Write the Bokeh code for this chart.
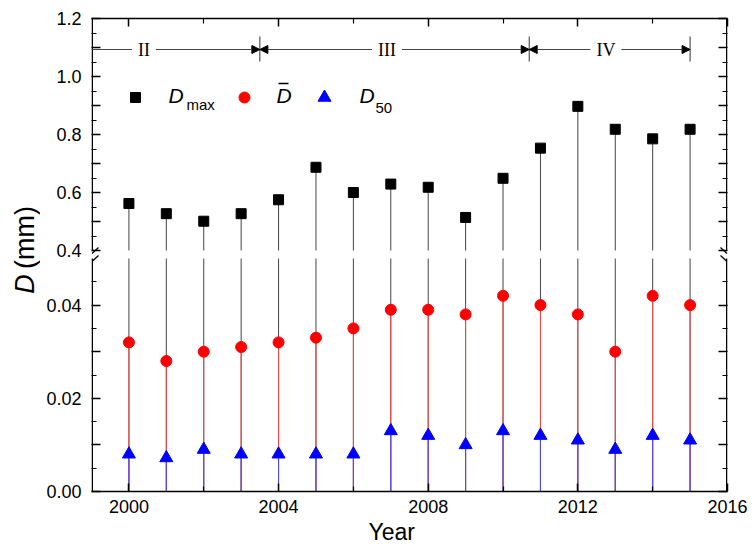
import math
from bokeh.plotting import figure
from bokeh.layouts import row
from bokeh.models import (Range1d, LinearAxis, FixedTicker, CustomJSTickFormatter,
                          Label, Arrow, NormalHead, ColumnDataSource, Title)
from bokeh.core.properties import value
from bokeh.embed import file_html
from bokeh.resources import INLINE

# ---------------- data ----------------
years = [2000, 2001, 2002, 2003, 2004, 2005, 2006, 2007,
         2008, 2009, 2010, 2011, 2012, 2013, 2014, 2015]
d_max = [0.562, 0.527, 0.501, 0.527, 0.575, 0.687, 0.600, 0.629,
         0.618, 0.514, 0.649, 0.753, 0.897, 0.818, 0.785, 0.818]
d_mean = [0.032, 0.028, 0.030, 0.031, 0.032, 0.033, 0.035, 0.039,
          0.039, 0.038, 0.042, 0.040, 0.038, 0.030, 0.042, 0.040]
d_50 = [0.008, 0.0072, 0.009, 0.008, 0.008, 0.008, 0.008, 0.013,
        0.012, 0.010, 0.013, 0.012, 0.011, 0.009, 0.012, 0.011]

stage_names = ["II", "III", "IV"]
stage_bounds = [1999, 2003.5, 2010.7, 2015]
stage_label_x = [2000.4, 2006.9, 2012.75]

x_ticks = [2000, 2004, 2008, 2012, 2016]
x_minor = [2002, 2006, 2010, 2014]
low_major = [0.0, 0.01, 0.02, 0.03, 0.04]
low_labels = ["0.00", "", "0.02", "", "0.04"]
low_minor = [0.005, 0.015, 0.025, 0.035, 0.045]
up_major = [0.4, 0.5, 0.6, 0.7, 0.8, 0.9, 1.0, 1.1, 1.2]
up_labels = ["0.4", "", "0.6", "", "0.8", "", "1.0", "", "1.2"]
up_minor = [0.45, 0.55, 0.65, 0.75, 0.85, 0.95, 1.05, 1.15]

# ---------------- layout ----------------
FRAME_W, FRAME_H = 636, 473
LOW_H, UP_H = 233, 232
X0, X1 = 1999, 2016
LOW_MAX, UP_MIN, UP_MAX = 0.05, 0.4, 1.2
FL, FT = 91, 18            # frame left / top on page
FB = FT + FRAME_H
LBL_W = 40                 # width of the y-title strip
PAGE_H = 545

main_end = LOW_MAX * FRAME_H / LOW_H
up_start = UP_MAX - (UP_MAX - UP_MIN) * FRAME_H / UP_H


def up_to_main(v):
    return (v - up_start) / (UP_MAX - up_start) * main_end


def px_x(px):
    return X0 + (px - FL) / FRAME_W * (X1 - X0)


def px_main(py):
    return (FB - py) / FRAME_H * main_end


def px_up(py):
    return up_start + (FB - py) / FRAME_H * (UP_MAX - up_start)


FONT = "Liberation Sans"

p = figure(frame_width=FRAME_W, frame_height=FRAME_H,
           x_range=Range1d(X0, X1), y_range=Range1d(0, main_end),
           output_backend="svg", toolbar_location=None,
           x_axis_location=None, y_axis_location=None,
           min_border_left=FL - LBL_W, min_border_top=FT, min_border_right=23,
           min_border_bottom=PAGE_H - FB)
p.extra_y_ranges = {"up": Range1d(up_start, UP_MAX)}
p.outline_line_color = None
p.background_fill_color = "white"
p.border_fill_color = "white"
p.grid.visible = False

blank = CustomJSTickFormatter(code="return '';")


def style_axis(ax, major_in, minor_in):
    ax.major_tick_in = major_in
    ax.major_tick_out = 0
    ax.minor_tick_in = minor_in
    ax.minor_tick_out = 0
    ax.major_tick_line_color = "black"
    ax.minor_tick_line_color = "black"
    ax.major_tick_line_width = 1.5
    ax.minor_tick_line_width = 1.2
    ax.axis_line_width = 1.5
    ax.major_label_text_font = FONT
    ax.major_label_text_font_size = "18px"
    ax.major_label_text_color = "black"


xt = FixedTicker(ticks=x_ticks, minor_ticks=x_minor)
bottom = LinearAxis(ticker=xt)
style_axis(bottom, 8, 5)
bottom.major_label_standoff = 8
p.add_layout(bottom, "below")

top = LinearAxis(ticker=xt, formatter=blank)
style_axis(top, 8, 5)
top.major_label_standoff = 0
p.add_layout(top, "above")

left_pos = low_major + [up_to_main(v) for v in up_major]
left_lbl = low_labels + up_labels
left_minor = low_minor + [up_to_main(v) for v in up_minor]
yt = FixedTicker(ticks=left_pos, minor_ticks=left_minor)
fmt = CustomJSTickFormatter(args=dict(pos=left_pos, labels=left_lbl), code="""
for (let i = 0; i < pos.length; i++) {
  if (Math.abs(pos[i] - tick) < 1e-9) { return labels[i]; }
}
return '';
""")
left = LinearAxis(ticker=yt, formatter=fmt)
style_axis(left, 9, 5)
left.axis_line_color = None
left.major_label_standoff = 10
p.add_layout(left, "left")

right = LinearAxis(ticker=yt, formatter=blank)
style_axis(right, 9, 5)
right.axis_line_color = None
right.major_label_standoff = 0
p.add_layout(right, "right")

# broken vertical axis lines
eps = 0.75 / FRAME_W * (X1 - X0)
for xe in (X0 + eps, X1 - eps):
    p.segment(x0=[xe], y0=[0], x1=[xe], y1=[LOW_MAX], line_color="black", line_width=1.5)
    p.segment(x0=[xe], y0=[UP_MIN], x1=[xe], y1=[UP_MAX], line_color="black",
              line_width=1.5, y_range_name="up")

# break marks (slashes at the axis break, inside the frame)
for xp, d in ((FL, 1), (FL + FRAME_W, -1)):
    for yp in (FT + UP_H, FT + UP_H + 8):
        p.segment(x0=[px_x(xp + d * 0.5)], y0=[px_main(yp + 3)],
                  x1=[px_x(xp + d * 7)], y1=[px_main(yp - 3)],
                  line_color="black", line_width=1.3)

src = ColumnDataSource(dict(year=years, dmax=d_max, dmean=d_mean, d50=d_50,
                            zero=[0] * len(years), lowtop=[LOW_MAX] * len(years),
                            upbot=[UP_MIN] * len(years)))

# stems
p.segment(x0="year", y0="zero", x1="year", y1="lowtop", source=src,
          line_color="#444444", line_width=1)
p.segment(x0="year", y0="upbot", x1="year", y1="dmax", source=src,
          line_color="#444444", line_width=1, y_range_name="up")
p.segment(x0="year", y0="zero", x1="year", y1="dmean", source=src,
          line_color="#ff4848", line_width=1)
p.segment(x0="year", y0="zero", x1="year", y1="d50", source=src,
          line_color="#4848ff", line_width=1)

# markers
p.scatter(x="year", y="dmax", source=src, marker="square", size=10,
          fill_color="black", line_color="black", y_range_name="up")
p.scatter(x="year", y="dmean", source=src, marker="circle", size=11,
          fill_color="red", line_color="red")
p.scatter(x="year", y="d50", source=src, marker="triangle", size=13,
          fill_color="blue", line_color="blue")

# legend swatches
ly = px_up(97)
p.scatter(x=[px_x(135)], y=[ly], marker="square", size=10, fill_color="black",
          line_color="black", y_range_name="up")
p.scatter(x=[px_x(244)], y=[ly], marker="circle", size=11, fill_color="red",
          line_color="red", y_range_name="up")
p.scatter(x=[px_x(324)], y=[ly], marker="triangle", size=13, fill_color="blue",
          line_color="blue", y_range_name="up")


def lab(x, y, text, size, style="normal", font=FONT, **kw):
    l = Label(x=x, y=y, text=text, text_font=font, text_font_size=size,
              text_font_style=style, text_color="black", **kw)
    p.add_layout(l)
    return l


base = px_up(106.5)
sub = px_up(112)
lab(px_x(168), base, "D", "21px", "italic", y_range_name="up")
lab(px_x(186), sub, "max", "15px", y_range_name="up")
lab(px_x(276), base, "D", "21px", "italic", y_range_name="up")
p.segment(x0=[px_x(278)], y0=[px_up(83)], x1=[px_x(288)], y1=[px_up(83)],
          line_color="black", line_width=1.5, y_range_name="up")
lab(px_x(359), base, "D", "21px", "italic", y_range_name="up")
lab(px_x(375), sub, "50", "15px", y_range_name="up")

# stages
sy = px_up(49)
p.segment(x0=stage_bounds[1:], y0=[px_up(36)] * 3, x1=stage_bounds[1:],
          y1=[px_up(61)] * 3, line_color="#333333", line_width=1, y_range_name="up")
for i, name in enumerate(stage_names):
    start_head = None if i == 0 else NormalHead(size=8, fill_color="black",
                                                line_color="black")
    p.add_layout(Arrow(start=start_head,
                       end=NormalHead(size=8, fill_color="black", line_color="black"),
                       x_start=stage_bounds[i], y_start=sy,
                       x_end=stage_bounds[i + 1], y_end=sy,
                       line_color="#444444", line_width=1, y_range_name="up"))
    lab(stage_label_x[i], sy, name, "18px", font="Liberation Serif",
        text_align="center", text_baseline="middle", y_range_name="up",
        background_fill_color="white", padding=6)

# x title
p.add_layout(Title(text="Year", align="left", offset=368 - FL, standoff=3,
                   text_font=FONT, text_font_size="23px", text_font_style="normal",
                   text_color="black"), "below")

# y title strip: a narrow canvas whose frame lines up with the main frame;
# its y coordinates are page pixels measured upward from the page bottom
t = figure(width=LBL_W, height=PAGE_H, x_range=Range1d(0, LBL_W),
           y_range=Range1d(PAGE_H - FB, PAGE_H - FT), output_backend="svg",
           toolbar_location=None, x_axis_location=None, y_axis_location=None,
           min_border_left=0, min_border_right=0, min_border_top=FT,
           min_border_bottom=PAGE_H - FB)
t.outline_line_color = None
t.grid.visible = False
t.text(x=[24], y=[PAGE_H - 284], text=["D"], angle=math.pi / 2,
       text_font=value(FONT), text_font_size="27px", text_font_style="italic",
       text_align="center", text_baseline="middle", text_color="black")
t.text(x=[24], y=[PAGE_H - 237.5], text=["(mm)"], angle=math.pi / 2,
       text_font=value(FONT), text_font_size="27px", text_font_style="normal",
       text_align="center", text_baseline="middle", text_color="black")

layout = row(t, p, spacing=0)
open("out.html", "w").write(file_html(layout, INLINE))
